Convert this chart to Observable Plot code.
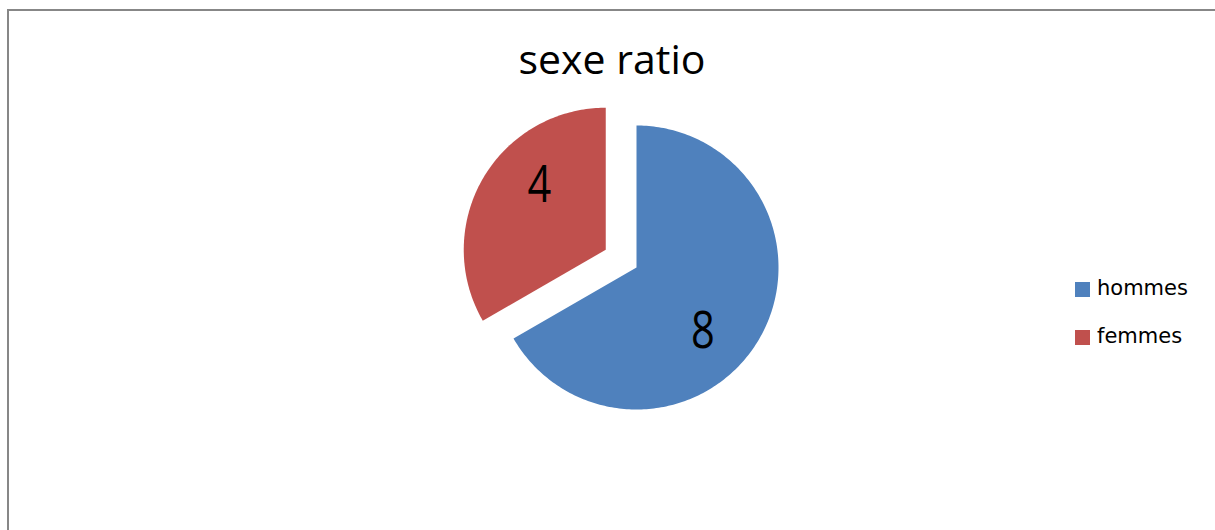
<!DOCTYPE html>
<html>
<head>
<meta charset="utf-8">
<script src="https://cdn.jsdelivr.net/npm/d3@7"></script>
<script src="https://cdn.jsdelivr.net/npm/@observablehq/plot@0.6"></script>
<style>
  html, body { margin: 0; padding: 0; background: #fff; overflow: hidden; }
  #wrap { position: relative; width: 1215px; height: 530px; overflow: hidden; }
  #frame { position: absolute; left: 7px; top: 9px; width: 1300px; height: 600px; border: 2px solid #878787; box-sizing: border-box; }
  #title { position: absolute; top: 38px; left: 612px; transform: translateX(-50%); font-family: "Open Sans", sans-serif; font-size: 41px; line-height: 41px; color: #000; white-space: nowrap; }
  #chart { position: absolute; left: 0; top: 0; }
  .leg { position: absolute; font-family: "DejaVu Sans", sans-serif; font-size: 21px; line-height: 21px; color: #000; white-space: nowrap; }
  .sw { position: absolute; width: 15px; height: 15px; }
</style>
</head>
<body>
<div id="wrap">
  <div id="frame"></div>
  <div id="chart"></div>
  <div id="title"></div>
  <div id="legend"></div>
</div>
<script>
// ---- data ----
const categories = ["hommes", "femmes"];
const values = [8, 4];
const colors = ["#4F81BD", "#C0504D"];
const explode = [0, 0.25];   // fraction of radius each slice is pulled out
const titleText = "sexe ratio";

// ---- layout ----
const W = 1215, H = 530;
const cx = 636, cy = 267, R = 142;

const slices = categories.map((name, i) => ({name, value: values[i], explode: explode[i]}));
const arcs = d3.pie().sort(null).value(d => d.value).startAngle(0).endAngle(2 * Math.PI)(slices);

// polygon outline for each slice (unit-radius coordinates, y pointing down)
const outline = [];
const labels = [];
for (const a of arcs) {
  const mid = (a.startAngle + a.endAngle) / 2;
  const ox = a.data.explode * Math.sin(mid), oy = -a.data.explode * Math.cos(mid);
  outline.push({name: a.data.name, x: ox, y: oy});
  const n = Math.max(2, Math.ceil((a.endAngle - a.startAngle) / (Math.PI / 180)));
  for (let k = 0; k <= n; k++) {
    const t = a.startAngle + (a.endAngle - a.startAngle) * k / n;
    outline.push({name: a.data.name, x: ox + Math.sin(t), y: oy - Math.cos(t)});
  }
  outline.push({name: a.data.name, x: ox, y: oy});
  const la = mid + 0.245, lr = 0.65;
  labels.push({name: a.data.name, value: a.data.value, x: ox + lr * Math.sin(la), y: oy - lr * Math.cos(la)});
}

const plot = Plot.plot({
  width: W,
  height: H,
  margin: 0,
  x: {domain: [-cx / R, (W - cx) / R], range: [0, W], axis: null},
  y: {domain: [-cy / R, (H - cy) / R], range: [0, H], axis: null},
  color: {domain: categories, range: colors},
  marks: [
    Plot.line(outline, {x: "x", y: "y", z: "name", fill: "name", stroke: "none", curve: "linear"}),
    Plot.text(labels, {x: "x", y: "y", text: d => String(d.value), fontSize: 52, fill: "#000",
      fontFamily: "'Open Sans', sans-serif", textAnchor: "middle", lineAnchor: "middle"})
  ]
});
plot.style.background = "transparent";
// narrow the digit glyphs (Calibri-like condensed look)
d3.select(plot).selectAll("g[aria-label=text] text").each(function() {
  const t = this.getAttribute("transform");
  if (t) this.setAttribute("transform", t + " scale(0.8,1)");
});
document.getElementById("chart").appendChild(plot);

document.getElementById("title").textContent = titleText;

// legend
const legend = document.getElementById("legend");
const legTops = [282, 330];
categories.forEach((name, i) => {
  const sw = document.createElement("div");
  sw.className = "sw";
  sw.style.left = "1075px";
  sw.style.top = legTops[i] + "px";
  sw.style.background = colors[i];
  legend.appendChild(sw);
  const t = document.createElement("div");
  t.className = "leg";
  t.style.left = "1097px";
  t.style.top = (legTops[i] - 3.8) + "px";
  t.textContent = name;
  legend.appendChild(t);
});
</script>
</body>
</html>
